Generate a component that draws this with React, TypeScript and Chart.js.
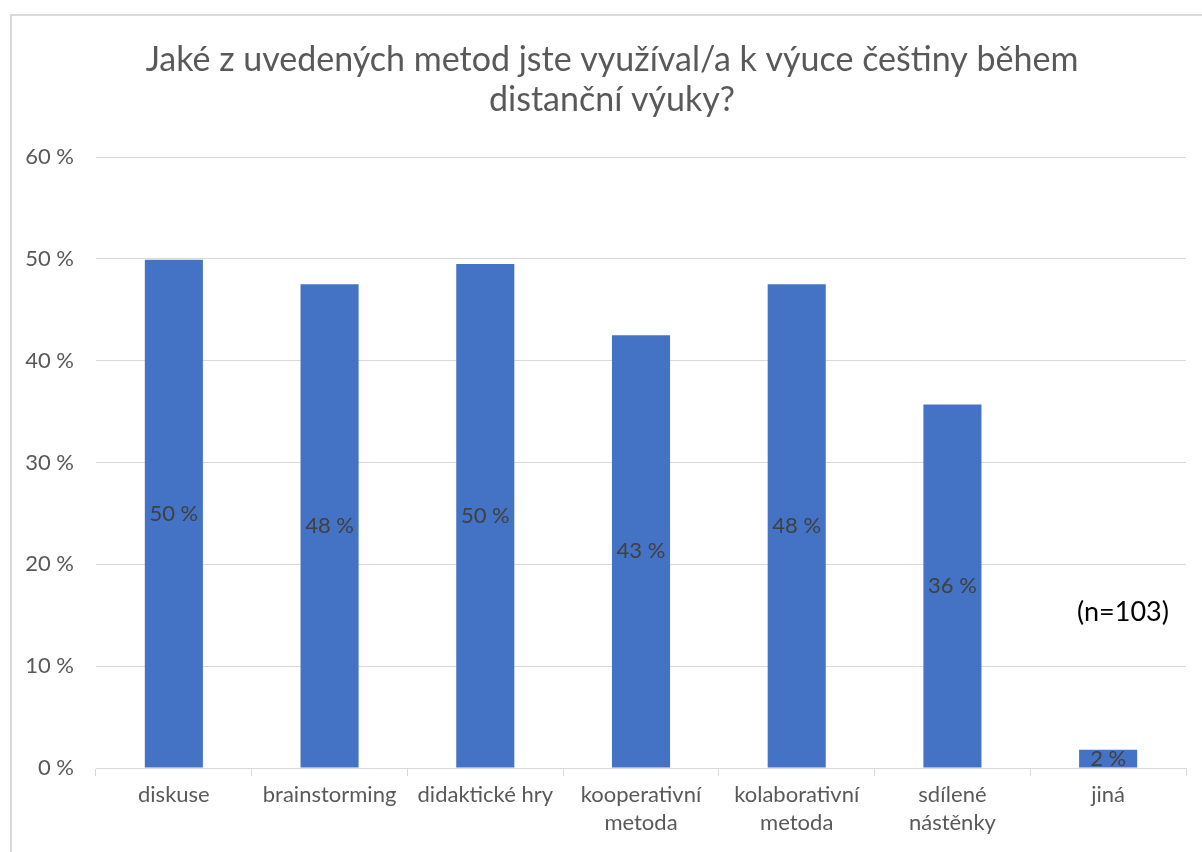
import React, { useEffect, useRef } from "react";
import { Chart, registerables } from "chart.js";

Chart.register(...registerables);

const categories: (string | string[])[] = [
  "diskuse",
  "brainstorming",
  "didaktické hry",
  ["kooperativní", "metoda"],
  ["kolaborativní", "metoda"],
  ["sdílené", "nástěnky"],
  "jiná",
];
const values: number[] = [49.9, 47.5, 49.5, 42.5, 47.5, 35.7, 1.8];
const yTicks: number[] = [0, 10, 20, 30, 40, 50, 60];
const titleLines: string[] = [
  "Jaké z uvedených metod jste využíval/a k výuce češtiny během",
  "distanční výuky?",
];
const noteText = "(n=103)";

const FONT = "Lato, 'Open Sans', sans-serif";

const barLabels = {
  id: "barLabels",
  afterDatasetsDraw(chart: any) {
    const ctx = chart.ctx;
    const meta = chart.getDatasetMeta(0);
    ctx.save();
    ctx.font = `22px ${FONT}`;
    ctx.fillStyle = "#404040";
    ctx.textAlign = "center";
    ctx.textBaseline = "middle";
    meta.data.forEach((bar: any, i: number) => {
      const y = (bar.y + bar.base) / 2;
      ctx.fillText(`${Math.round(values[i])} %`, bar.x, y);
    });
    ctx.restore();
  },
};

const titleAndNote = {
  id: "titleAndNote",
  afterDraw(chart: any) {
    const ctx = chart.ctx;
    const area = chart.chartArea;
    ctx.save();
    ctx.font = `34px ${FONT}`;
    ctx.fillStyle = "#595959";
    ctx.textAlign = "center";
    ctx.textBaseline = "middle";
    titleLines.forEach((line, i) => {
      ctx.fillText(line, chart.width / 2, 44 + i * 40);
    });
    ctx.font = `27px ${FONT}`;
    ctx.fillStyle = "#000000";
    ctx.textAlign = "left";
    ctx.fillText(noteText, area.right - 109, area.bottom - 156);
    ctx.restore();
  },
};

export default function App() {
  const ref = useRef<HTMLCanvasElement | null>(null);

  useEffect(() => {
    if (!ref.current) return;
    const chart = new Chart(ref.current, {
      type: "bar",
      data: {
        labels: categories,
        datasets: [
          {
            data: values,
            backgroundColor: "#4472C4",
            borderWidth: 0,
            barPercentage: 0.373,
            categoryPercentage: 1,
          },
        ],
      },
      options: {
        animation: false,
        responsive: false,
        layout: { padding: { left: 0, right: 26, top: 141, bottom: 0 } },
        plugins: {
          legend: { display: false },
          tooltip: { enabled: false },
          title: { display: false },
        },
        scales: {
          x: {
            grid: {
              display: true,
              offset: true,
              drawOnChartArea: false,
              drawTicks: true,
              tickLength: 8,
              color: "#d9d9d9",
              lineWidth: 1,
            },
            border: { display: true, color: "#d9d9d9", width: 1 },
            ticks: {
              color: "#595959",
              font: { family: FONT, size: 22, lineHeight: 1.273 },
              padding: 5,
              maxRotation: 0,
              autoSkip: false,
            },
            afterFit: (s: any) => {
              s.height = 94;
            },
          },
          y: {
            min: 0,
            max: 60,
            afterBuildTicks: (s: any) => {
              s.ticks = yTicks.map((v) => ({ value: v }));
            },
            grid: {
              color: "#d9d9d9",
              lineWidth: 1,
              drawTicks: false,
            },
            border: { display: false },
            ticks: {
              color: "#595959",
              font: { family: FONT, size: 22 },
              padding: 22,
              callback: (v: any) => `${v} %`,
            },
            afterFit: (s: any) => {
              s.width = 84;
            },
          },
        },
      },
      plugins: [barLabels, titleAndNote],
    });
    return () => chart.destroy();
  }, []);

  return (
    <div style={{ position: "fixed", inset: 0, overflow: "hidden", background: "#fff" }}>
      <div
        style={{
          position: "absolute",
          left: 10,
          top: 14,
          width: 1204,
          height: 850,
          border: "2px solid #d9d9d9",
          boxSizing: "border-box",
          background: "#fff",
        }}
      >
        <canvas ref={ref} width={1200} height={846} style={{ display: "block" }} />
      </div>
    </div>
  );
}
